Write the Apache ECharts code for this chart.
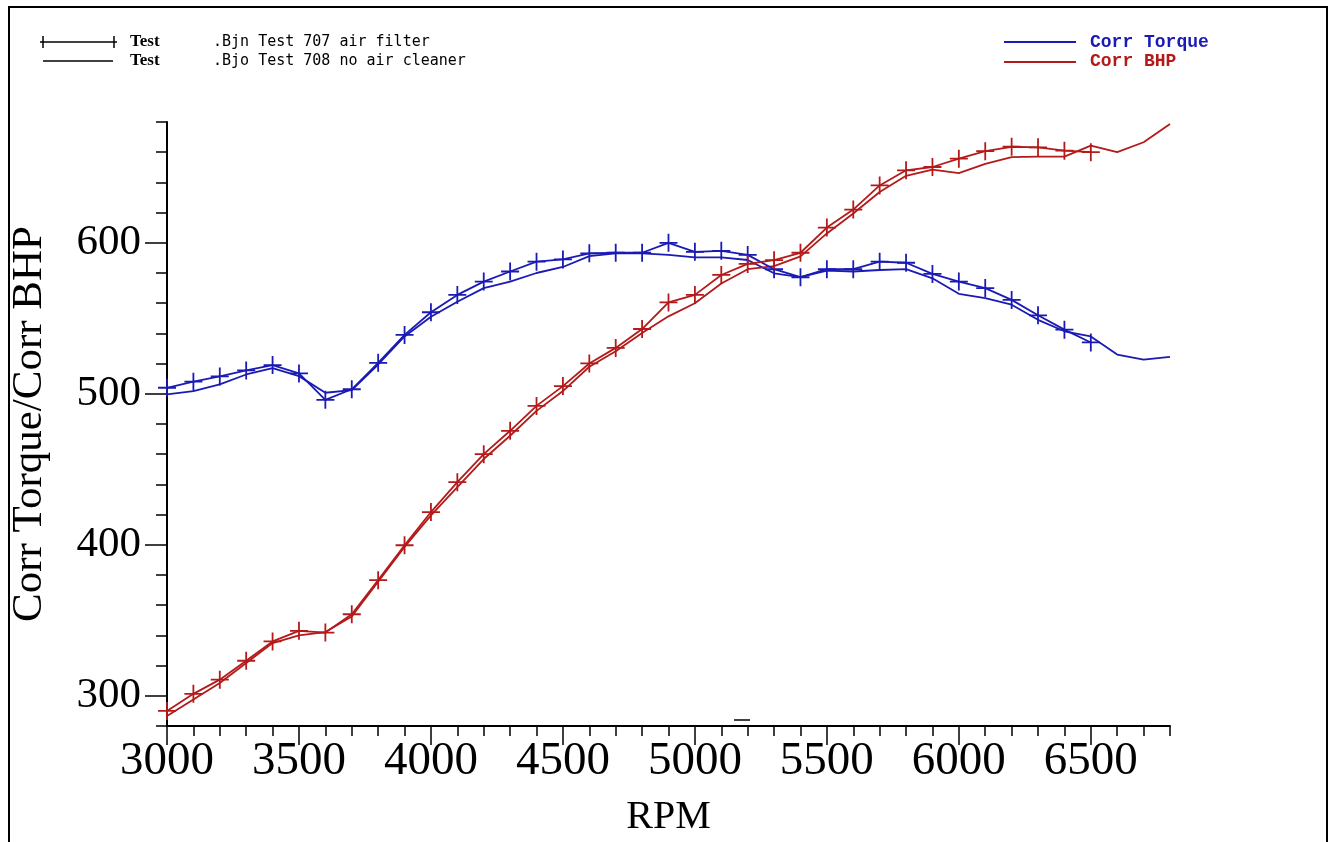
<!DOCTYPE html>
<html><head><meta charset="utf-8">
<script src="https://cdn.jsdelivr.net/npm/echarts@6/dist/echarts.min.js"></script>
<style>html,body{margin:0;padding:0;background:#fff}#c{width:1333px;height:842px}</style>
</head><body><div id="c"></div>
<script>
// ---- data ----
const rpm707 = [3000,3100,3200,3300,3400,3500,3600,3700,3800,3900,4000,4100,4200,4300,4400,4500,4600,4700,4800,4900,5000,5100,5200,5300,5400,5500,5600,5700,5800,5900,6000,6100,6200,6300,6400,6500];
const rpm708 = [3000,3100,3200,3300,3400,3500,3600,3700,3800,3900,4000,4100,4200,4300,4400,4500,4600,4700,4800,4900,5000,5100,5200,5300,5400,5500,5600,5700,5800,5900,6000,6100,6200,6300,6400,6500,6600,6700,6800];
const torque707 = [504,508,511.5,515.5,519,513.5,496,503,520.5,539,554,565.5,574.3,581,587.5,589,593,593.4,593.4,600,594,594.7,592,582.5,577.2,582.5,582.5,587.5,586.8,579.4,574.3,570,562.2,552,542.5,534];
const torque708 = [499.6,501.8,506.2,512.8,517,511.7,500.7,502.5,519.4,538,551,561,570,574.3,580,584,591.2,593,593,592,590.4,590.4,588.6,579.8,577.2,581.6,581,582,582.5,576.5,566.2,563.4,559,549,541.4,538,526,522.7,524.5];
const bhp707 = [290,301.3,310.7,323.2,336,343,341.9,354,376.6,399.7,421.7,441.5,460,475.5,492,505.1,520.1,530.4,542.9,560.5,565.5,578.7,586,588.5,593.4,610.1,622,638,648,650.2,655.7,660.7,663.6,663.2,661,660];
const bhp708 = [286.6,297.5,308.5,321.7,334.9,340,342.2,352.5,375.5,398.6,419.5,438.2,456.8,472.2,488.7,501.8,517.9,528.2,540.3,551.3,560,573,582.5,584.5,591,606.2,619.4,633.6,644.4,648.4,646.1,652.3,656.7,657.1,657.1,664.4,660,666.6,678.7];
const xMajorTicks = [3000,3500,4000,4500,5000,5500,6000,6500];
const yMajorTicks = [300,400,500,600];
const legendTest = ['Test', 'Test'];
const legendRuns = ['.Bjn Test 707 air filter', '.Bjo Test 708 no air cleaner'];
const legendVars = ['Corr Torque', 'Corr BHP'];

const BLUE = '#1a1ab4', RED = '#b41a1a';
const pair = (xs, ys) => xs.map((x, i) => [x, ys[i]]);
const plus = 'path://M5,0L5,10M0,5L10,5';

function markerSeries(name, data, color) {
  return { name, type: 'line', xAxisIndex: 0, yAxisIndex: 0, data, symbol: plus, symbolSize: [18, 18],
    showAllSymbol: true, lineStyle: { color, width: 1.8 },
    itemStyle: { color: 'rgba(0,0,0,0)', borderColor: color, borderWidth: 1.8 }, z: 3 };
}
function plainSeries(name, data, color) {
  return { name, type: 'line', xAxisIndex: 0, yAxisIndex: 0, data, symbol: 'none', lineStyle: { color, width: 1.8 }, z: 2 };
}

const chart = echarts.init(document.getElementById('c'), null, { renderer: 'canvas' });
const serifFont = 'Liberation Serif';
chart.setOption({
  animation: false,
  backgroundColor: '#fff',
  grid: { left: 166, right: 163, top: 122, bottom: 113, containLabel: false },
  xAxis: [
    { type: 'value', min: 3000, max: 6800, interval: 100,
      axisLine: { show: true, lineStyle: { color: '#000', width: 2 } },
      axisTick: { show: true, length: 10, lineStyle: { color: '#000', width: 1.5 } },
      axisLabel: { show: false }, splitLine: { show: false } },
    { type: 'value', min: 3000, max: 6800, interval: 500, position: 'bottom',
      axisLine: { show: false },
      axisTick: { show: true, length: 19, customValues: xMajorTicks, lineStyle: { color: '#000', width: 1.5 } },
      axisLabel: { show: true, customValues: xMajorTicks, margin: 12, color: '#000', fontFamily: serifFont, fontSize: 47,
        formatter: v => (v % 500 === 0 && v <= 6500) ? String(v) : '' },
      splitLine: { show: false },
      name: 'RPM', nameLocation: 'middle', nameGap: 71,
      nameTextStyle: { color: '#000', fontFamily: serifFont, fontSize: 40 } }
  ],
  yAxis: [
    { type: 'value', min: 280, max: 680, interval: 20,
      axisLine: { show: true, lineStyle: { color: '#000', width: 2 } },
      axisTick: { show: true, length: 11, lineStyle: { color: '#000', width: 1.5 } },
      axisLabel: { show: false }, splitLine: { show: false } },
    { type: 'value', min: 280, max: 680, interval: 20, position: 'left',
      axisLine: { show: false },
      axisTick: { show: true, length: 22, customValues: yMajorTicks, lineStyle: { color: '#000', width: 1.5 } },
      axisLabel: { show: true, customValues: yMajorTicks, margin: 26, color: '#000', fontFamily: serifFont, fontSize: 43,
        formatter: v => (v % 100 === 0) ? String(v) : '' },
      splitLine: { show: false },
      name: 'Corr Torque/Corr BHP', nameLocation: 'middle', nameGap: 116, nameRotate: 90,
      nameTextStyle: { color: '#000', fontFamily: serifFont, fontSize: 43 } }
  ],
  series: [
    plainSeries('Corr Torque 708', pair(rpm708, torque708), BLUE),
    plainSeries('Corr BHP 708', pair(rpm708, bhp708), RED),
    markerSeries('Corr Torque 707', pair(rpm707, torque707), BLUE),
    markerSeries('Corr BHP 707', pair(rpm707, bhp707), RED)
  ],
  graphic: [
    { type: 'rect', shape: { x: 9, y: 7, width: 1318, height: 850 }, style: { fill: 'none', stroke: '#000', lineWidth: 2 }, silent: true },
    // top-left legend
    { type: 'line', shape: { x1: 40, y1: 42, x2: 117, y2: 42 }, style: { stroke: '#000', lineWidth: 1.5 } },
    { type: 'line', shape: { x1: 43, y1: 36, x2: 43, y2: 48 }, style: { stroke: '#000', lineWidth: 1.5 } },
    { type: 'line', shape: { x1: 114, y1: 36, x2: 114, y2: 48 }, style: { stroke: '#000', lineWidth: 1.5 } },
    { type: 'line', shape: { x1: 43, y1: 61, x2: 113, y2: 61 }, style: { stroke: '#000', lineWidth: 1.5 } },
    { type: 'text', style: { text: legendTest[0], x: 130, y: 42, verticalAlign: 'middle', fill: '#000', font: 'bold 17px "Liberation Serif"' } },
    { type: 'text', style: { text: legendTest[1], x: 130, y: 61, verticalAlign: 'middle', fill: '#000', font: 'bold 17px "Liberation Serif"' } },
    { type: 'text', style: { text: legendRuns[0], x: 213, y: 42, verticalAlign: 'middle', fill: '#000', font: '15px "DejaVu Sans Mono"' } },
    { type: 'text', style: { text: legendRuns[1], x: 213, y: 61, verticalAlign: 'middle', fill: '#000', font: '15px "DejaVu Sans Mono"' } },
    // top-right legend
    { type: 'line', shape: { x1: 1004, y1: 42, x2: 1076, y2: 42 }, style: { stroke: BLUE, lineWidth: 1.8 } },
    { type: 'line', shape: { x1: 1004, y1: 62, x2: 1076, y2: 62 }, style: { stroke: RED, lineWidth: 1.8 } },
    { type: 'text', style: { text: legendVars[0], x: 1090, y: 42, verticalAlign: 'middle', fill: BLUE, font: 'bold 18px "Liberation Mono"' } },
    { type: 'text', style: { text: legendVars[1], x: 1090, y: 61, verticalAlign: 'middle', fill: RED, font: 'bold 18px "Liberation Mono"' } },
    // small cursor dash above the x axis
    { type: 'line', shape: { x1: 734, y1: 720, x2: 750, y2: 720 }, style: { stroke: '#000', lineWidth: 1.5 } }
  ]
});
</script>
</body></html>
